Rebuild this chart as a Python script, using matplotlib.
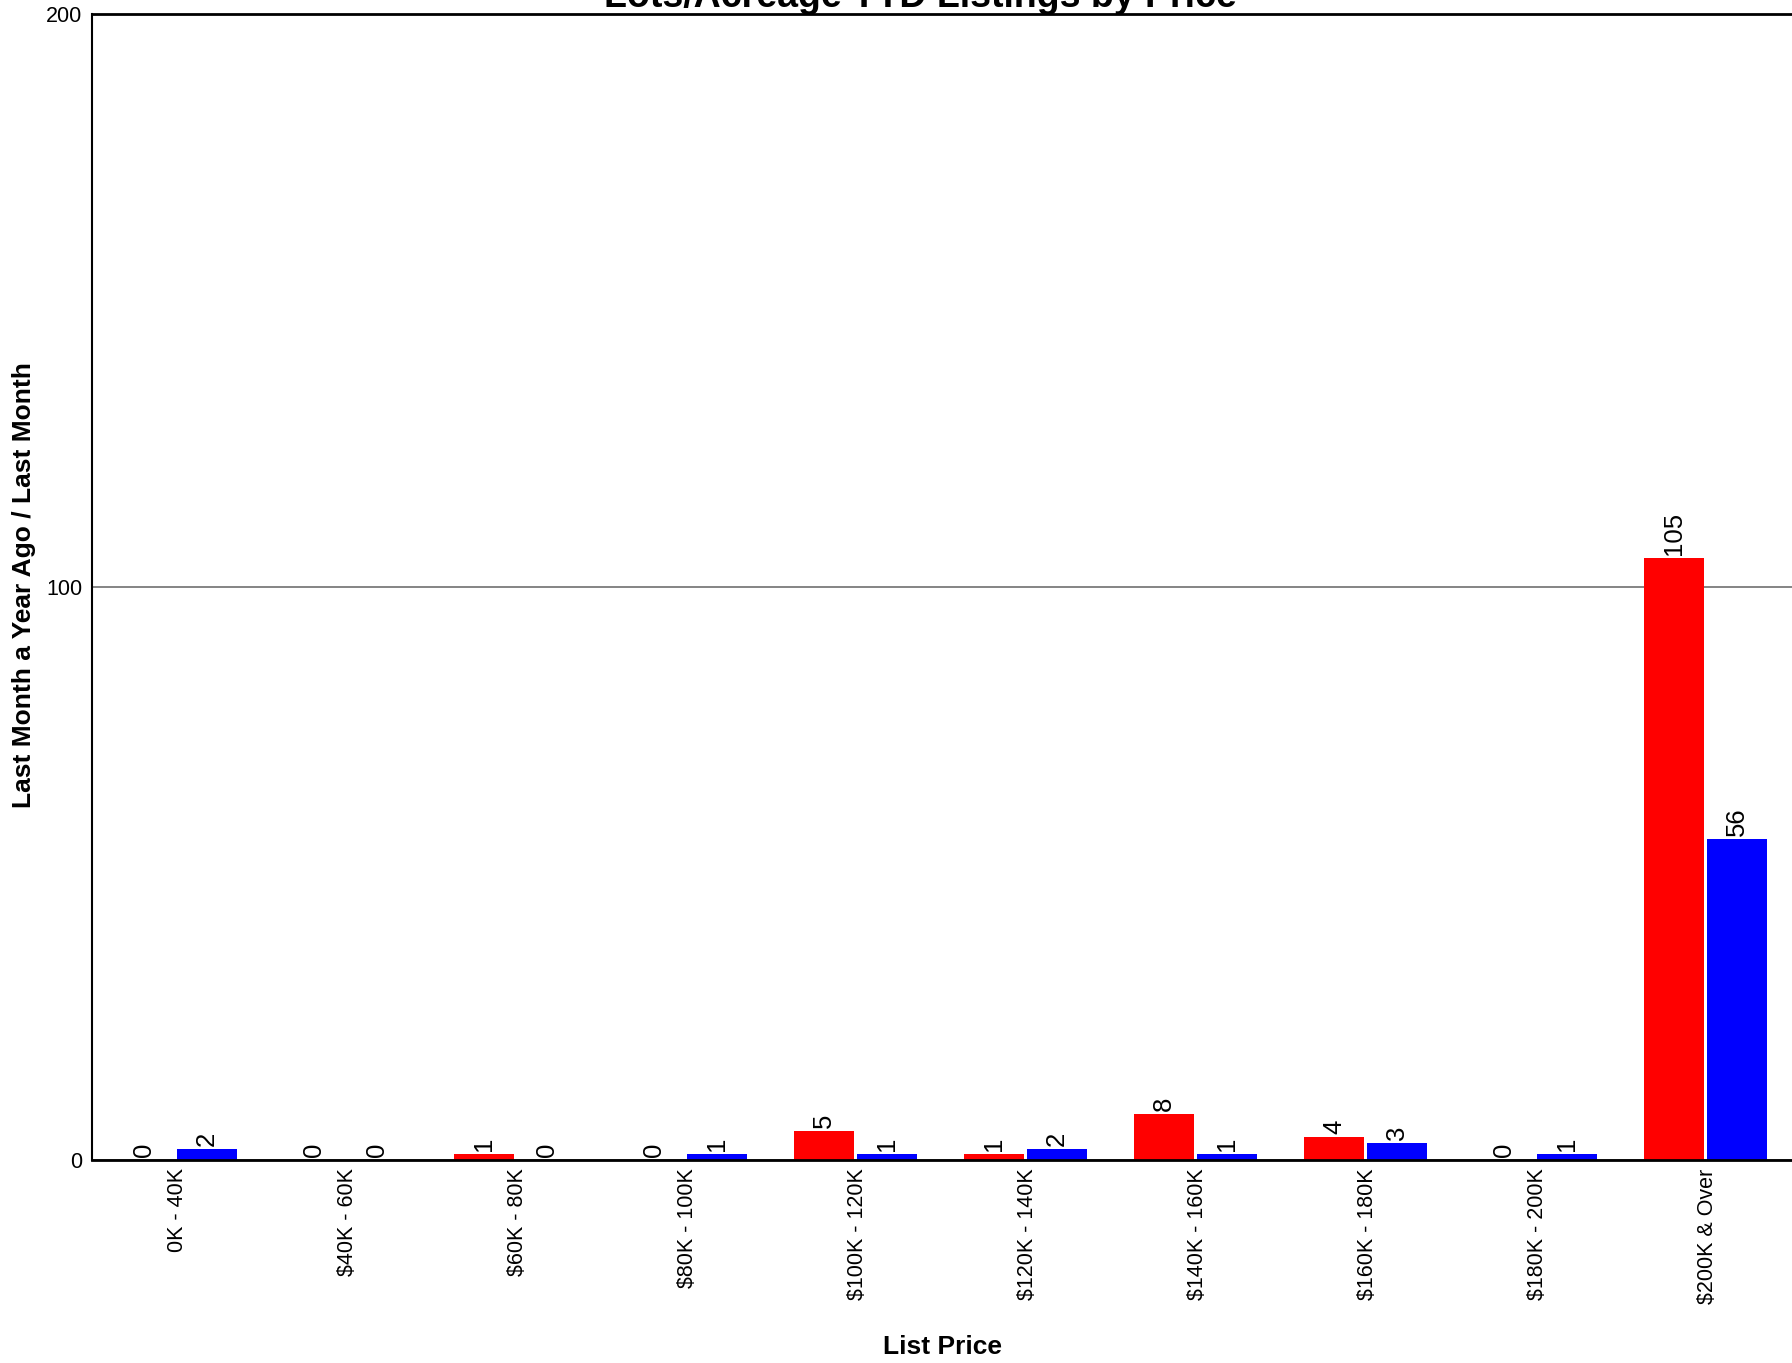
import matplotlib.pyplot as plt
import numpy as np

plt.rcParams['font.family'] = ['Liberation Sans', 'DejaVu Sans']

categories = ["0K - 40K", "$40K - 60K", "$60K - 80K", "$80K - 100K", "$100K - 120K",
              "$120K - 140K", "$140K - 160K", "$160K - 180K", "$180K - 200K", "$200K & Over"]
year_ago = [0, 0, 1, 0, 5, 1, 8, 4, 0, 105]   # red
last_month = [2, 0, 0, 1, 1, 2, 1, 3, 1, 56]  # blue

W, H = 1792, 1363
fig = plt.figure(figsize=(W / 100, H / 100), dpi=100)
ax = fig.add_axes([92 / W, 1 - 1160 / H, 1 - 92 / W, (1160 - 14) / H])

x = np.arange(len(categories))
bw = 0.35
gap = 0.018
red_bars = ax.bar(x - gap, year_ago, width=-bw, align='edge', color='#ff0000', zorder=2)
blue_bars = ax.bar(x, last_month, width=bw, align='edge', color='#0000ff', zorder=2)

# value labels above bars
for bars in (red_bars, blue_bars):
    for b in bars:
        ax.annotate(str(int(b.get_height())), (b.get_x() + b.get_width() / 2, b.get_height()),
                    xytext=(0, 3), textcoords='offset pixels', rotation=90,
                    ha='center', va='bottom', fontsize=18.5, zorder=3)

ax.set_xlim(-0.5, 9.5)
ax.set_ylim(0, 200)
ax.set_yticks([0, 100, 200])
ax.set_xticks(x)
ax.set_xticklabels(categories, rotation=90, fontsize=15.5)
ax.tick_params(axis='y', length=0, pad=7, labelsize=15.5)
ax.tick_params(axis='x', length=0, pad=6)
ax.yaxis.grid(True, color='#707070', linewidth=1.2, zorder=0)
ax.set_axisbelow(True)

ax.spines['right'].set_visible(False)
ax.spines['top'].set_linewidth(2)
ax.spines['bottom'].set_linewidth(2)
ax.spines['left'].set_linewidth(1.5)
for s in ax.spines.values():
    s.set_zorder(4)

fig.text(920 / W, 1 - 7 / H, "Lots/Acreage YTD Listings by Price", ha='center', va='baseline',
         fontsize=27, fontweight='bold')
fig.text(942 / W, 1 - 1347 / H, "List Price", ha='center', va='center', fontsize=19, fontweight='bold')
fig.text(24 / W, 1 - 585 / H, "Last Month a Year Ago / Last Month", ha='center', va='center',
         rotation=90, fontsize=19, fontweight='bold')

fig.savefig("out.png", dpi=100)
